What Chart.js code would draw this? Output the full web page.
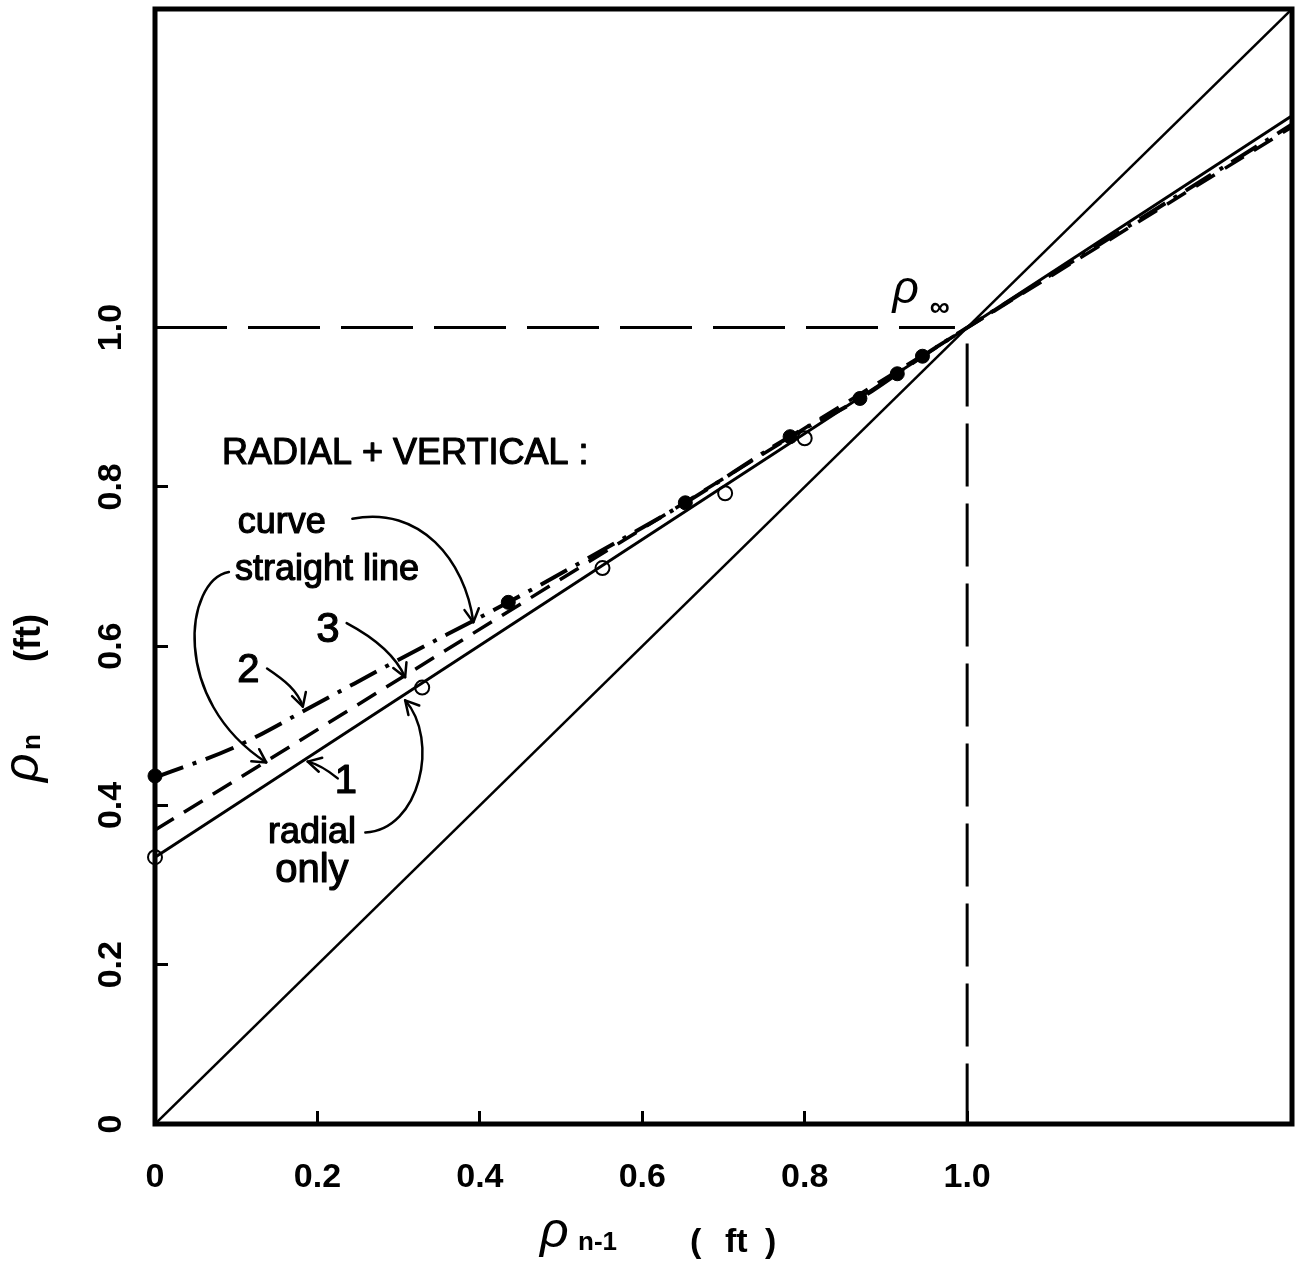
<!DOCTYPE html>
<html><head><meta charset="utf-8">
<script src="https://cdn.jsdelivr.net/npm/chart.js@4.4.1/dist/chart.umd.min.js"></script>
<style>html,body{margin:0;padding:0;background:#fff;} canvas{display:block;}</style>
</head><body>
<canvas id="c" width="1303" height="1265"></canvas>
<script>
// ---- data ----
const xTickValues = [0, 0.2, 0.4, 0.6, 0.8, 1.0];
const xTickLabels = ['0', '0.2', '0.4', '0.6', '0.8', '1.0'];
const yTickValues = [0, 0.2, 0.4, 0.6, 0.8, 1.0];
const yTickLabels = ['0', '0.2', '0.4', '0.6', '0.8', '1.0'];

const diagX = [0, 1.4];
const diagY = [0, 1.4];
const radialOnlyX = [0, 1.4];            // line 1 (radial only)
const radialOnlyY = [0.335, 1.266];
const straightX = [0, 1.4];              // line 3 (radial + vertical, straight line)
const straightY = [0.369, 1.252];
const curveX = [0, 0.1, 0.2, 0.3, 0.435, 0.55, 0.653, 0.78, 0.87, 0.945, 1.0, 1.2, 1.4];   // line 2 (curve)
const curveY = [0.435, 0.474, 0.528, 0.583, 0.655, 0.72, 0.780, 0.862, 0.912, 0.964, 1.0, 1.128, 1.255];
const filledX = [0, 0.435, 0.653, 0.782, 0.868, 0.914, 0.945];
const filledY = [0.437, 0.655, 0.780, 0.863, 0.911, 0.942, 0.964];
const openX = [0, 0.329, 0.551, 0.702, 0.800];
const openY = [0.335, 0.548, 0.698, 0.792, 0.861];
const refHX = [0, 0.985];
const refHY = [1.0, 1.0];
const refVX = [1.0, 1.0];
const refVY = [0.98, 0];

const FONT = "'Liberation Sans', Arial, sans-serif";
const pts = (xs, ys) => xs.map((x, i) => ({x: x, y: ys[i]}));

// annotation texts (positions in data units)
const annTexts = [
  {t: 'RADIAL + VERTICAL :', x: 0.0825, y: 0.829, size: 36, align: 'left'},
  {t: 'curve', x: 0.102, y: 0.742, size: 36, align: 'left'},
  {t: 'straight line', x: 0.0985, y: 0.683, size: 36, align: 'left'},
  {t: '3', x: 0.213, y: 0.605, size: 42, align: 'center'},
  {t: '2', x: 0.115, y: 0.555, size: 40, align: 'center'},
  {t: '1', x: 0.235, y: 0.415, size: 40, align: 'center'},
  {t: 'radial', x: 0.139, y: 0.353, size: 36, align: 'left'},
  {t: 'only', x: 0.148, y: 0.304, size: 40, align: 'left'}
];
// curved arrows: cubic bezier [start, c1, c2, tip] in data units
const annArrows = [
  [[0.243, 0.760], [0.326, 0.777], [0.382, 0.708], [0.392, 0.630]],
  [[0.091, 0.693], [0.037, 0.683], [0.018, 0.533], [0.137, 0.454]],
  [[0.236, 0.629], [0.271, 0.610], [0.296, 0.589], [0.308, 0.561]],
  [[0.138, 0.572], [0.160, 0.557], [0.176, 0.544], [0.182, 0.524]],
  [[0.225, 0.434], [0.213, 0.444], [0.200, 0.452], [0.188, 0.455]],
  [[0.259, 0.366], [0.326, 0.369], [0.351, 0.482], [0.308, 0.532]]
];

function heavyText(ctx, t, x, y, w) {
  ctx.fillText(t, x, y);
  ctx.lineWidth = w;
  ctx.strokeText(t, x, y);
}

const annotate = {
  id: 'annotate',
  afterDatasetsDraw(chart) {
    const ctx = chart.ctx, a = chart.chartArea;
    const xs = chart.scales.x, ys = chart.scales.y;
    const X = v => xs.getPixelForValue(v), Y = v => ys.getPixelForValue(v);
    ctx.save();
    // frame
    ctx.strokeStyle = '#000';
    ctx.lineWidth = 5;
    ctx.strokeRect(a.left, a.top, a.right - a.left, a.bottom - a.top);
    // texts
    ctx.fillStyle = '#000';
    ctx.textBaseline = 'alphabetic';
    ctx.lineJoin = 'round';
    annTexts.forEach(o => {
      ctx.font = `${o.size}px ${FONT}`;
      ctx.textAlign = o.align;
      heavyText(ctx, o.t, X(o.x), Y(o.y), 1.2);
    });
    // rho infinity
    ctx.textAlign = 'left';
    ctx.font = `italic 46px ${FONT}`;
    ctx.fillText('ρ', X(0.908), Y(1.031));
    ctx.font = `bold 28px ${FONT}`;
    ctx.fillText('∞', X(0.954), Y(1.015));
    // arrows
    ctx.lineWidth = 2.5;
    ctx.lineCap = 'round';
    annArrows.forEach(p => {
      const q = p.map(v => [X(v[0]), Y(v[1])]);
      ctx.beginPath();
      ctx.moveTo(q[0][0], q[0][1]);
      ctx.bezierCurveTo(q[1][0], q[1][1], q[2][0], q[2][1], q[3][0], q[3][1]);
      ctx.stroke();
      const ang = Math.atan2(q[3][1] - q[2][1], q[3][0] - q[2][0]);
      const L = 15;
      ctx.beginPath();
      ctx.moveTo(q[3][0] - L * Math.cos(ang - 0.5), q[3][1] - L * Math.sin(ang - 0.5));
      ctx.lineTo(q[3][0], q[3][1]);
      ctx.lineTo(q[3][0] - L * Math.cos(ang + 0.5), q[3][1] - L * Math.sin(ang + 0.5));
      ctx.stroke();
    });
    ctx.restore();
  },
  afterDraw(chart) {
    const ctx = chart.ctx;
    ctx.save();
    ctx.fillStyle = '#000';
    ctx.textBaseline = 'alphabetic';
    ctx.textAlign = 'left';
    // x axis title
    ctx.font = `italic 50px ${FONT}`;
    ctx.fillText('ρ', 540, 1247);
    ctx.font = `bold 26px ${FONT}`;
    ctx.fillText('n-1', 578, 1250);
    ctx.font = `bold 34px ${FONT}`;
    ctx.fillText('(', 690, 1252);
    ctx.fillText('ft', 725, 1252);
    ctx.fillText(')', 765, 1252);
    // y axis title (rotated)
    ctx.translate(38, 782);
    ctx.rotate(-Math.PI / 2);
    ctx.font = `italic 50px ${FONT}`;
    ctx.fillText('ρ', 0, 0);
    ctx.font = `bold 26px ${FONT}`;
    ctx.fillText('n', 32, 2);
    ctx.font = `bold 36px ${FONT}`;
    ctx.fillText('(ft)', 120, 2);
    ctx.restore();
  }
};

const lineDs = (xs, ys, extra) => Object.assign({
  data: pts(xs, ys), showLine: true, pointRadius: 0, borderColor: '#000',
  borderWidth: 3, fill: false, tension: 0
}, extra);

new Chart(document.getElementById('c'), {
  type: 'scatter',
  data: {
    datasets: [
      lineDs(diagX, diagY, {borderWidth: 2.5}),
      lineDs(radialOnlyX, radialOnlyY, {borderWidth: 3}),
      lineDs(straightX, straightY, {borderWidth: 3.5, borderDash: [22, 12]}),
      lineDs(curveX, curveY, {borderWidth: 4, borderDash: [30, 10, 4, 10], cubicInterpolationMode: 'monotone'}),
      lineDs(refHX, refHY, {borderWidth: 3, borderDash: [72, 21]}),
      lineDs(refVX, refVY, {borderWidth: 3, borderDash: [63, 17]}),
      {data: pts(filledX, filledY), showLine: false, pointRadius: 7, pointBackgroundColor: '#000',
       pointBorderColor: '#000', pointBorderWidth: 1, clip: false},
      {data: pts(openX, openY), showLine: false, pointRadius: 7, pointBackgroundColor: '#fff',
       pointBorderColor: '#000', pointBorderWidth: 2, clip: false}
    ]
  },
  options: {
    responsive: false,
    animation: false,
    layout: {padding: {top: 8, right: 11, left: 0, bottom: 0}},
    plugins: {legend: {display: false}, tooltip: {enabled: false}},
    scales: {
      x: {
        type: 'linear', min: 0, max: 1.4,
        afterBuildTicks: s => { s.ticks = xTickValues.map(v => ({value: v})); },
        afterFit: s => { s.height = 141; s.paddingLeft = 0; s.paddingRight = 0; },
        ticks: {
          callback: (v, i) => xTickLabels[i],
          font: {family: FONT, size: 34, weight: 'bold'}, color: '#000',
          maxRotation: 0, minRotation: 0, padding: 46
        },
        grid: {drawOnChartArea: false, drawTicks: true, tickLength: -13, lineWidth: 3, color: '#000'},
        border: {display: false}
      },
      y: {
        type: 'linear', min: 0, max: 1.4,
        afterBuildTicks: s => { s.ticks = yTickValues.map(v => ({value: v})); },
        afterFit: s => { s.width = 155; s.paddingTop = 0; s.paddingBottom = 0; },
        ticks: {
          callback: (v, i) => yTickLabels[i],
          font: {family: FONT, size: 34, weight: 'bold'}, color: '#000',
          minRotation: 90, maxRotation: 90, crossAlign: 'center', padding: 33
        },
        grid: {drawOnChartArea: false, drawTicks: true, tickLength: -13, lineWidth: 3, color: '#000'},
        border: {display: false}
      }
    }
  },
  plugins: [annotate]
});
</script>
</body></html>
